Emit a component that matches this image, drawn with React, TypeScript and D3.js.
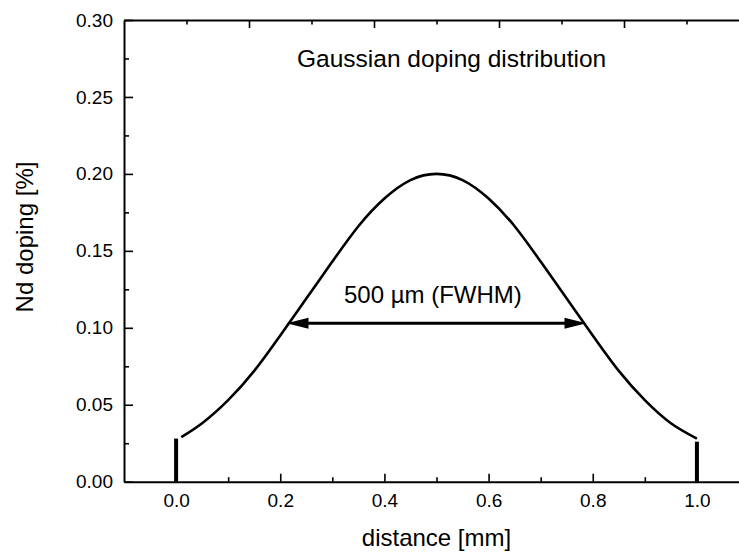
import React, { useRef, useEffect } from 'react';
import * as d3 from 'd3';

// doping profile
const distance = [0.01, 0.05, 0.1, 0.15, 0.2, 0.25, 0.3, 0.35, 0.4, 0.45, 0.5,
  0.55, 0.6, 0.65, 0.7, 0.75, 0.8, 0.85, 0.9, 0.95, 1.0];
const doping = [0.029, 0.038, 0.053, 0.072, 0.095, 0.119, 0.143, 0.166, 0.184, 0.196, 0.2,
  0.196, 0.184, 0.166, 0.143, 0.119, 0.095, 0.072, 0.053, 0.038, 0.028];

// sample edges (vertical bars)
const edgeX = [0.0, 1.0];
const edgeTop = [0.028, 0.026];

// FWHM arrow
const fwhmEnds = [0.212, 0.788];
const fwhmLevel = 0.103;

const xMajor = [0, 0.2, 0.4, 0.6, 0.8, 1.0];
const xMinor = [0.1, 0.3, 0.5, 0.7, 0.9];
const yMajor = [0, 0.05, 0.1, 0.15, 0.2, 0.25, 0.3];
const yMinor = [0.025, 0.075, 0.125, 0.175, 0.225, 0.275];
const topMajor = [0.14, 0.38, 0.62, 0.86];
const topMinor = [0.02, 0.26, 0.5, 0.74, 0.98];

const FONT = '"Liberation Sans", Arial, sans-serif';

export default function App() {
  const svgRef = useRef<SVGSVGElement>(null);

  useEffect(() => {
    const svg = d3.select(svgRef.current);
    svg.selectAll('*').remove();

    const left = 124, right = 749, top = 20, bottom = 481.7;
    const x = d3.scaleLinear().domain([-0.1, 1.1]).range([left, right]);
    const y = d3.scaleLinear().domain([0, 0.3]).range([bottom, top]);

    const style = (g: any, size: number) => {
      g.selectAll('path.domain').attr('stroke', '#000').attr('stroke-width', 2);
      g.selectAll('.tick line').attr('stroke', '#000').attr('stroke-width', 1.6);
      g.selectAll('text').attr('font-size', size).attr('font-family', FONT).attr('fill', '#000');
    };

    // bottom axis
    const gx = svg.append('g').attr('transform', `translate(0,${bottom})`)
      .call(d3.axisBottom(x).tickValues(xMajor).tickSize(-8).tickSizeOuter(0)
        .tickPadding(12).tickFormat(d3.format('.1f')));
    style(gx, 19);
    const gxm = svg.append('g').attr('transform', `translate(0,${bottom})`)
      .call(d3.axisBottom(x).tickValues(xMinor).tickSize(-4.5).tickFormat(() => ''));
    gxm.select('.domain').remove();
    style(gxm, 19);

    // top axis (ticks only)
    const gt = svg.append('g').attr('transform', `translate(0,${top})`)
      .call(d3.axisTop(x).tickValues(topMajor).tickSize(-8).tickSizeOuter(0).tickFormat(() => ''));
    style(gt, 19);
    const gtm = svg.append('g').attr('transform', `translate(0,${top})`)
      .call(d3.axisTop(x).tickValues(topMinor).tickSize(-4.5).tickFormat(() => ''));
    gtm.select('.domain').remove();
    style(gtm, 19);

    // left axis
    const gy = svg.append('g').attr('transform', `translate(${left},0)`)
      .call(d3.axisLeft(y).tickValues(yMajor).tickSize(-9).tickSizeOuter(0)
        .tickPadding(11).tickFormat(d3.format('.2f')));
    style(gy, 19);
    const gym = svg.append('g').attr('transform', `translate(${left},0)`)
      .call(d3.axisLeft(y).tickValues(yMinor).tickSize(-5).tickFormat(() => ''));
    gym.select('.domain').remove();
    style(gym, 19);

    // gaussian profile
    const profile = d3.line<number>()
      .x((d, i) => x(distance[i]))
      .y((d) => y(d))
      .curve(d3.curveNatural);
    svg.append('path')
      .datum(doping)
      .attr('d', profile)
      .attr('fill', 'none')
      .attr('stroke', '#000')
      .attr('stroke-width', 2.6);

    // edges
    svg.selectAll('.edge')
      .data(edgeX)
      .join('line')
      .attr('class', 'edge')
      .attr('x1', (d) => x(d)).attr('x2', (d) => x(d))
      .attr('y1', y(0)).attr('y2', (d, i) => y(edgeTop[i]))
      .attr('stroke', '#000')
      .attr('stroke-width', 4);

    // FWHM arrow
    const ay = y(fwhmLevel);
    const ax0 = x(fwhmEnds[0]);
    const ax1 = x(fwhmEnds[1]);
    svg.append('line')
      .attr('x1', ax0 + 10).attr('x2', ax1 - 10)
      .attr('y1', ay).attr('y2', ay)
      .attr('stroke', '#000').attr('stroke-width', 3);
    svg.append('path')
      .attr('d', `M${ax0},${ay} L${ax0 + 22},${ay - 5.5} L${ax0 + 22},${ay + 5.5} Z`)
      .attr('fill', '#000');
    svg.append('path')
      .attr('d', `M${ax1},${ay} L${ax1 - 22},${ay - 5.5} L${ax1 - 22},${ay + 5.5} Z`)
      .attr('fill', '#000');

    // texts
    svg.append('text')
      .attr('x', 297).attr('y', 67)
      .attr('font-family', FONT).attr('font-size', 24.5)
      .text('Gaussian doping distribution');
    svg.append('text')
      .attr('x', 344).attr('y', 303)
      .attr('font-family', FONT).attr('font-size', 24)
      .text('500 \u00B5m (FWHM)');
    svg.append('text')
      .attr('x', 436.5).attr('y', 546)
      .attr('text-anchor', 'middle')
      .attr('font-family', FONT).attr('font-size', 24)
      .text('distance [mm]');
    svg.append('text')
      .attr('transform', 'translate(33,237) rotate(-90)')
      .attr('text-anchor', 'middle')
      .attr('font-family', FONT).attr('font-size', 24)
      .text('Nd doping [%]');
  }, []);

  return (
    <svg
      ref={svgRef}
      width={739}
      height={552}
      style={{ position: 'absolute', left: 0, top: 0, background: '#fff' }}
    />
  );
}
